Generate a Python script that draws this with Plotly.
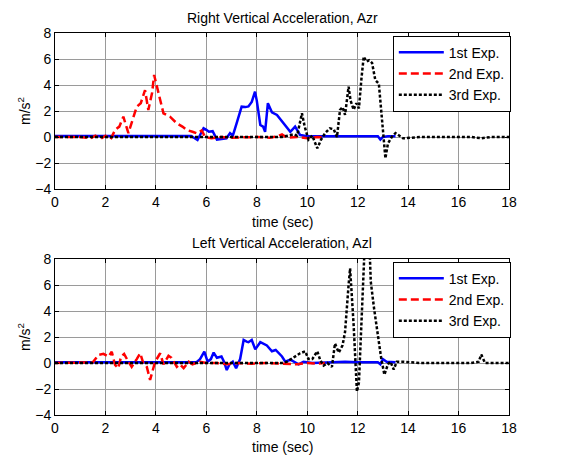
import plotly.graph_objects as go

# ---------------- data ----------------
# Top: Right Vertical Acceleration, Azr
r_t1 = [0, 1, 2, 3, 4, 5, 5.4, 5.65, 5.75, 5.89, 6.0, 6.1, 6.25, 6.42, 6.6, 6.8, 6.94, 7.05, 7.2, 7.4, 7.55, 7.67, 7.8, 7.93, 8.0, 8.14, 8.25, 8.33, 8.44, 8.6, 8.8, 9.07, 9.2, 9.33, 9.52, 9.72, 10, 10.5, 11, 11.5, 12, 12.5, 12.8, 12.9, 13.0, 13.2, 13.5]
r_v1 = [0.08, 0.08, 0.08, 0.08, 0.08, 0.08, 0.08, -0.23, 0.2, 0.67, 0.55, 0.4, 0.45, -0.2, -0.15, -0.1, 0.3, 0.1, 1.05, 2.33, 2.3, 2.35, 2.7, 3.49, 2.8, 0.92, 0.8, 0.4, 2.6, 1.9, 1.7, 1.05, 0.7, 0.4, 0.8, 0.15, 0.05, 0.05, 0.05, 0.08, 0.08, 0.08, 0.05, -0.2, 0.0, 0.05, 0.05]

r_t2 = [0, 1.0, 1.4, 1.6, 1.8, 2.0, 2.2, 2.38, 2.55, 2.71, 2.91, 3.05, 3.24, 3.4, 3.57, 3.70, 3.85, 3.93, 4.1, 4.3, 4.56, 4.83, 5.05, 5.22, 5.45, 5.62, 5.82, 5.95, 6.2, 6.6, 7.0, 7.5, 8.0, 8.5, 8.8, 9.0, 9.2, 9.6, 10.0, 10.4, 10.7]
r_v2 = [0.0, 0.0, -0.1, 0.1, -0.15, 0.1, -0.2, 0.54, 0.8, 1.56, 0.3, 1.2, 2.33, 2.6, 3.6, 2.08, 3.4, 4.77, 3.36, 1.82, 1.56, 1.05, 0.8, 0.54, 0.4, 0.28, 0.5, 0.0, -0.1, 0.0, -0.05, 0.0, 0.0, -0.05, 0.05, 0.2, -0.05, 0.0, -0.1, 0.0, -0.05]

r_t3 = [0, 2, 4, 6, 8, 9.0, 9.46, 9.6, 9.79, 9.9, 10.05, 10.2, 10.4, 10.55, 10.71, 10.9, 11.05, 11.18, 11.3, 11.4, 11.5, 11.64, 11.72, 11.84, 11.95, 12.05, 12.15, 12.24, 12.35, 12.45, 12.57, 12.7, 12.84, 13.0, 13.1, 13.2, 13.35, 13.5, 13.8, 14.5, 15.5, 16.5, 16.9, 17.3, 18]
r_v3 = [0.0, 0.0, 0.0, 0.0, 0.0, 0.0, 0.2, 0.1, 1.82, 0.8, -0.2, 0.1, -0.87, -0.2, 0.3, 0.67, 0.6, 0.0, 2.08, 2.3, 1.7, 3.87, 2.8, 2.1, 2.6, 2.2, 4.5, 6.18, 5.8, 5.9, 5.7, 4.38, 4.1, 0.54, -1.64, -0.5, 0.0, 0.3, -0.1, 0.0, 0.0, 0.0, -0.1, 0.0, 0.0]

# Bottom: Left Vertical Acceleration, Azl
l_t1 = [0, 1, 2, 3, 4, 5, 5.6, 5.75, 5.92, 6.05, 6.18, 6.29, 6.42, 6.6, 6.7, 6.81, 6.92, 7.05, 7.18, 7.34, 7.48, 7.6, 7.67, 7.8, 7.94, 8.14, 8.27, 8.4, 8.6, 8.75, 9.0, 9.13, 9.33, 9.5, 9.66, 9.85, 10.2, 11, 11.5, 12, 12.5, 12.8, 12.9, 13.0, 13.15, 13.5]
l_v1 = [0.05, 0.05, 0.05, 0.05, 0.05, 0.05, 0.05, 0.3, 0.87, 0.1, 0.3, 0.8, 0.4, 0.5, 0.1, -0.54, -0.1, 0.1, -0.4, 0.3, 1.77, 1.65, 1.6, 1.77, 1.05, 1.6, 1.5, 1.35, 0.9, 1.0, 0.5, 0.1, 0.25, 0.1, -0.1, 0.1, 0.0, 0.05, 0.1, 0.05, 0.05, 0.05, -0.1, 0.3, 0.1, 0.05]

l_t2 = [0, 1.0, 1.5, 1.72, 1.92, 2.12, 2.25, 2.38, 2.51, 2.62, 2.74, 2.91, 3.04, 3.24, 3.38, 3.5, 3.64, 3.77, 3.85, 3.97, 4.17, 4.3, 4.5, 4.62, 4.83, 4.95, 5.1, 5.3, 5.45, 5.75, 6.0, 6.4, 6.8, 7.2, 7.8, 8.4, 9.0, 9.6, 10.0, 10.4, 10.7]
l_v2 = [0.0, 0.0, 0.05, 0.62, 0.7, 0.49, 0.87, -0.15, -0.4, 0.5, 0.7, 0.1, -0.3, 0.3, 0.75, 0.0, -0.3, -1.3, -0.8, 0.1, 0.75, -0.1, 0.55, 0.4, -0.3, -0.1, -0.4, 0.1, -0.1, 0.1, 0.0, 0.0, -0.1, 0.0, -0.05, 0.0, -0.05, -0.1, 0.0, -0.05, 0.0]

l_t3 = [0, 2, 4, 6, 8, 9.0, 9.2, 9.46, 9.72, 9.92, 10.05, 10.2, 10.4, 10.52, 10.65, 10.8, 10.98, 11.1, 11.25, 11.4, 11.5, 11.64, 11.7, 11.84, 11.97, 12.05, 12.19, 12.3, 12.45, 12.52, 12.65, 12.8, 12.93, 13.06, 13.2, 13.3, 13.43, 13.55, 13.8, 14.5, 15.5, 16.5, 16.8, 16.9, 17.05, 17.5, 18]
l_v3 = [0.0, 0.0, 0.0, 0.0, 0.0, 0.0, 0.1, 0.4, 0.75, 0.9, 0.3, 0.3, 0.9, 0.2, -0.2, 0.0, -0.3, 1.5, 0.8, 1.35, 2.4, 6.0, 7.28, 2.92, -2.2, -1.5, 5.5, 10.0, 10.0, 6.25, 4.2, 2.2, 0.4, -0.9, -0.1, 0.1, -0.5, 0.1, 0.1, 0.0, 0.0, 0.0, 0.1, 0.65, 0.0, 0.0, 0.0]

names = ["1st Exp.", "2nd Exp.", "3rd Exp."]
colors = ["#0000FF", "#FF0000", "#000000"]
dashes = ["solid", "8px,4px", "3px,2px"]
titles = ["Right Vertical Acceleration, Azr", "Left Vertical Acceleration, Azl"]
x_ticks = [0, 2, 4, 6, 8, 10, 12, 14, 16, 18]
y_ticks = [-4, -2, 0, 2, 4, 6, 8]

# ---------------- figure ----------------
fig = go.Figure()
series = [
    [(r_t1, r_v1), (r_t2, r_v2), (r_t3, r_v3)],
    [(l_t1, l_v1), (l_t2, l_v2), (l_t3, l_v3)],
]
for k, panel in enumerate(series):
    xa = "x" if k == 0 else "x2"
    ya = "y" if k == 0 else "y2"
    for i, (t, v) in enumerate(panel):
        fig.add_trace(go.Scatter(
            x=t, y=v, mode="lines", name=names[i],
            line=dict(color=colors[i], width=2.5, dash=dashes[i]),
            xaxis=xa, yaxis=ya,
            legend="legend" if k == 0 else "legend2",
            showlegend=True,
        ))

W, H = 561, 458
ml, mr, mt, mb = 55, 52, 33, 43
ph = H - mt - mb
top_lo = 1 - 156 / ph
bot_hi = 1 - 226 / ph

FONT = "Liberation Sans, Arial"
axis_common = dict(
    showline=True, linecolor="black", linewidth=1, mirror="ticks",
    ticks="inside", ticklen=4, tickcolor="black",
    showgrid=True, gridcolor="#9a9a9a", gridwidth=1,
    zeroline=False, tickfont=dict(size=14, color="black", family=FONT),
)
fig.update_layout(
    width=W, height=H,
    margin=dict(l=ml, r=mr, t=mt, b=mb),
    paper_bgcolor="white", plot_bgcolor="white",
    font=dict(family=FONT, color="black"),
    xaxis=dict(range=[0, 18], tickvals=x_ticks, domain=[0, 1], anchor="y", **axis_common),
    yaxis=dict(range=[-4, 8], tickvals=y_ticks, domain=[top_lo, 1], anchor="x", **axis_common),
    xaxis2=dict(range=[0, 18], tickvals=x_ticks, domain=[0, 1], anchor="y2", **axis_common),
    yaxis2=dict(range=[-4, 8], tickvals=y_ticks, domain=[0, bot_hi], anchor="x2", **axis_common),
    legend=dict(x=1.004, y=0.993, xanchor="right", yanchor="top",
                bgcolor="white", bordercolor="black", borderwidth=1,
                font=dict(size=14), itemwidth=45, tracegroupgap=0),
    legend2=dict(x=1.004, y=bot_hi - 0.007, xanchor="right", yanchor="top",
                 bgcolor="white", bordercolor="black", borderwidth=1,
                 font=dict(size=14), itemwidth=45, tracegroupgap=0),
)

def px_x(p):
    return (p - ml) / (W - ml - mr)

def px_y(p):
    return 1 - (p - mt) / ph

ann = []
for k, ty in enumerate([18, 243]):
    ann.append(dict(text=titles[k], x=px_x(282), y=px_y(ty), xref="paper", yref="paper",
                    xanchor="center", yanchor="middle",
                    showarrow=False, font=dict(size=14)))
for ty in [222, 447]:
    ann.append(dict(text="time (sec)", x=px_x(282), y=px_y(ty), xref="paper", yref="paper",
                    xanchor="center", yanchor="middle",
                    showarrow=False, font=dict(size=14)))
for ty in [111, 337]:
    ann.append(dict(text="m/s<sup>2</sup>", x=px_x(24), y=px_y(ty), xref="paper", yref="paper",
                    xanchor="center", yanchor="middle",
                    showarrow=False, textangle=-90, font=dict(size=14)))
fig.update_layout(annotations=ann)

fig.write_html("out.html", config={"displayModeBar": False},
               post_script="document.body.style.margin='0';")
